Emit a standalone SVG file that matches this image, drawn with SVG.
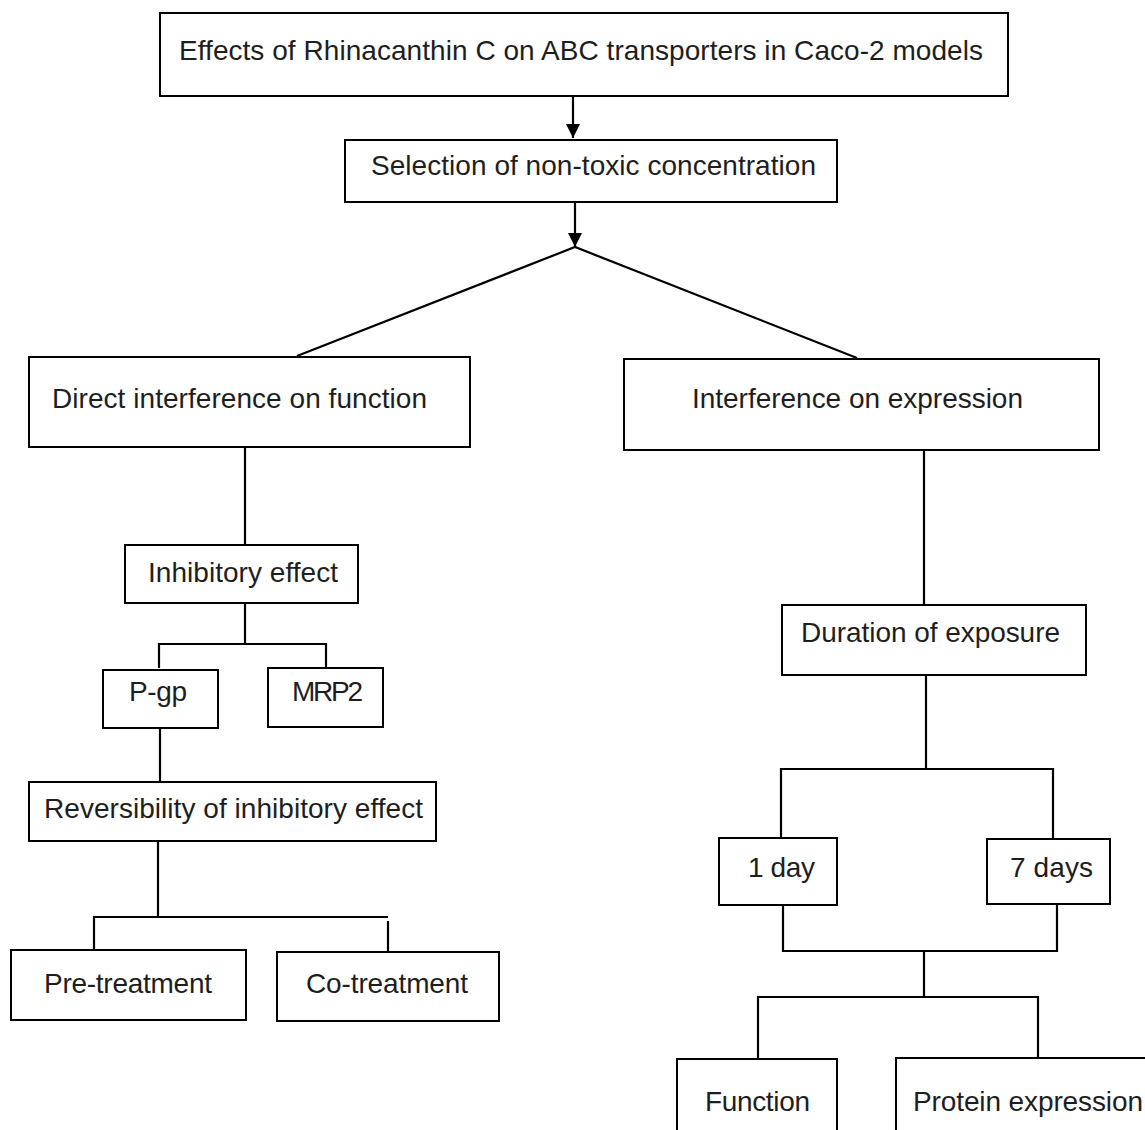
<svg xmlns="http://www.w3.org/2000/svg" width="1145" height="1130" viewBox="0 0 1145 1130">
<style>
.box{fill:#fff;stroke:#000;stroke-width:2}
.t{font-family:"Liberation Sans",Arial,sans-serif;font-size:28px;fill:#1e1e1e}
.c{fill:none;stroke:#000;stroke-width:2.2}
</style>
<defs>
<marker id="ah" markerUnits="userSpaceOnUse" viewBox="0 0 14 14" markerWidth="14" markerHeight="14" refX="14" refY="7" orient="auto">
<path d="M0,0 L14,7 L0,14 z" fill="#000"/>
</marker>
</defs>
<rect width="1145" height="1130" fill="#fff"/>
<g id="connectors">
<line class="c" x1="573" y1="97" x2="573" y2="138" marker-end="url(#ah)"/>
<line class="c" x1="575" y1="203" x2="575" y2="247" marker-end="url(#ah)"/>
<polyline class="c" points="297,356 575,247 857,358"/>
<line class="c" x1="245" y1="448" x2="245" y2="545"/>
<line class="c" x1="245" y1="604" x2="245" y2="644"/>
<polyline class="c" points="159,668 159,644 326,644 326,667"/>
<line class="c" x1="160" y1="729" x2="160" y2="782"/>
<line class="c" x1="158" y1="842" x2="158" y2="917"/>
<polyline class="c" points="94,950 94,917 388,917"/>
<line class="c" x1="388" y1="921" x2="388" y2="952"/>
<line class="c" x1="924" y1="451" x2="924" y2="605"/>
<line class="c" x1="926" y1="676" x2="926" y2="769"/>
<polyline class="c" points="781,838 781,769 1053,769 1053,839"/>
<polyline class="c" points="783,906 783,951 1057,951 1057,905"/>
<line class="c" x1="924" y1="951" x2="924" y2="997"/>
<polyline class="c" points="758,1059 758,997 1038,997 1038,1058"/>
</g>
<g id="n-top"><rect class="box" x="160" y="13" width="848" height="83"/><text class="t" x="179" y="60" textLength="804">Effects of Rhinacanthin C on ABC transporters in Caco-2 models</text></g>
<g id="n-selection"><rect class="box" x="345" y="140" width="492" height="62"/><text class="t" x="371" y="175" textLength="445">Selection of non-toxic concentration</text></g>
<g id="n-direct"><rect class="box" x="29" y="357" width="441" height="90"/><text class="t" x="52" y="408" textLength="375">Direct interference on function</text></g>
<g id="n-interference"><rect class="box" x="624" y="359" width="475" height="91"/><text class="t" x="692" y="408" textLength="331">Interference on expression</text></g>
<g id="n-inhibitory"><rect class="box" x="125" y="545" width="233" height="58"/><text class="t" x="148" y="582" textLength="190">Inhibitory effect</text></g>
<g id="n-pgp"><rect class="box" x="103" y="670" width="115" height="58"/><text class="t" x="129" y="701" textLength="58">P-gp</text></g>
<g id="n-mrp2"><rect class="box" x="268" y="668" width="115" height="59"/><text class="t" x="292" y="701" textLength="71">MRP2</text></g>
<g id="n-reversibility"><rect class="box" x="29" y="782" width="407" height="59"/><text class="t" x="44" y="818" textLength="379">Reversibility of inhibitory effect</text></g>
<g id="n-pre"><rect class="box" x="11" y="950" width="235" height="70"/><text class="t" x="44" y="993" textLength="168">Pre-treatment</text></g>
<g id="n-co"><rect class="box" x="277" y="952" width="222" height="69"/><text class="t" x="306" y="993" textLength="162">Co-treatment</text></g>
<g id="n-duration"><rect class="box" x="782" y="605" width="304" height="70"/><text class="t" x="801" y="642" textLength="259">Duration of exposure</text></g>
<g id="n-1day"><rect class="box" x="719" y="838" width="118" height="67"/><text class="t" x="748" y="877" textLength="67">1 day</text></g>
<g id="n-7days"><rect class="box" x="987" y="839" width="123" height="65"/><text class="t" x="1010" y="877" textLength="83">7 days</text></g>
<g id="n-function"><rect class="box" x="677" y="1059" width="160" height="90"/><text class="t" x="705" y="1111" textLength="105">Function</text></g>
<g id="n-protein"><rect class="box" x="896" y="1058" width="270" height="90"/><text class="t" x="913" y="1111" textLength="230">Protein expression</text></g>
</svg>
